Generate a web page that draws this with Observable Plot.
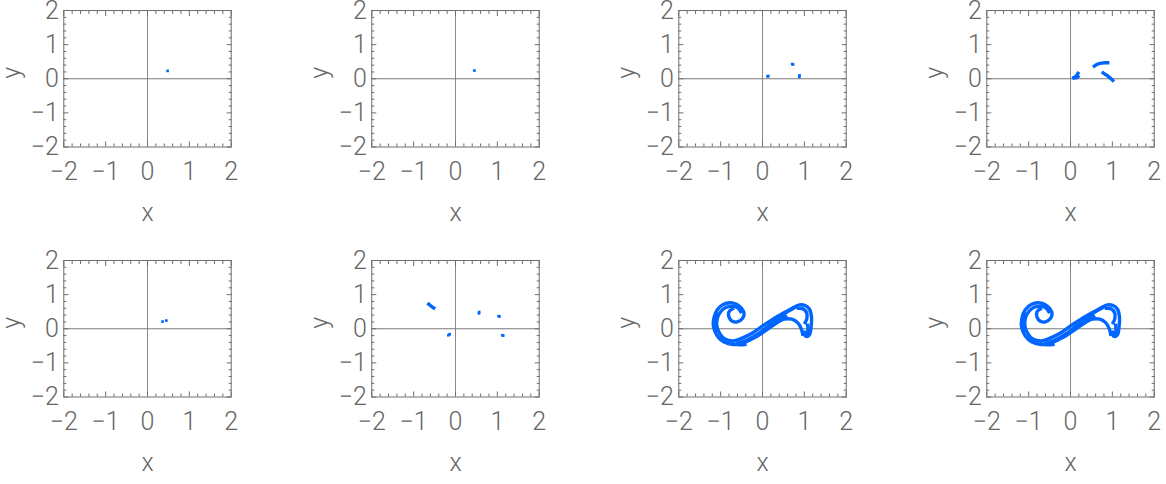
<!DOCTYPE html>
<html><head><meta charset="utf-8">
<script src="https://cdn.jsdelivr.net/npm/d3@7"></script>
<script src="https://cdn.jsdelivr.net/npm/@observablehq/plot@0.6"></script>
<style>
html,body{margin:0;padding:0;background:#fff;}
#wrap{position:relative;width:1166px;height:484px;overflow:hidden;}
#wrap > div{position:absolute;width:307px;height:250px;}
#wrap svg{max-width:none !important;}
</style></head><body><div id="wrap"></div>
<script>
// ---- tick values ----
const majorTicks = [-2, -1, 0, 1, 2];
const minorTicks = [-1.8, -1.6, -1.4, -1.2, -0.8, -0.6, -0.4, -0.2, 0.2, 0.4, 0.6, 0.8, 1.2, 1.4, 1.6, 1.8];
const axisLabels = ["x", "y"];

// ---- point data per panel ([x, y]) ----
const panel1Points = [[0.48, 0.23]];
const panel2Points = [[0.45, 0.24]];
const panel3Points = [[0.12, 0.07], [0.14, 0.08], [0.71, 0.43], [0.73, 0.42], [0.88, 0.05], [0.885, 0.10]];
const panel4Strands = [
  [[0.08, 0.03], [0.12, 0.06], [0.16, 0.12], [0.18, 0.16]],
  [[0.09, 0.03], [0.15, 0.03], [0.18, 0.06]],
  [[0.57, 0.37], [0.62, 0.41], [0.68, 0.44], [0.75, 0.46], [0.82, 0.47], [0.89, 0.47]],
  [[0.78, 0.17], [0.83, 0.13], [0.88, 0.09], [0.93, 0.04], [0.97, 0.00], [1.01, -0.05]]
];
const panel5Points = [[0.36, 0.21], [0.45, 0.24]];
const panel6Points = [[-0.17, -0.19], [-0.14, -0.16], [0.56, 0.45], [0.565, 0.49], [1.03, 0.37], [1.05, 0.36], [1.12, -0.19], [1.14, -0.20]];
const panel6Strands = [
  [[-0.64, 0.72], [-0.60, 0.68], [-0.56, 0.64], [-0.52, 0.61]]
];
// attractor (panels 7 and 8), traced strands
const attractorStrands = [
  [[1.00, -0.10], [1.04, -0.22], [1.12, -0.18], [1.16, 0.05], [1.17, 0.35], [1.12, 0.58], [1.02, 0.68], [0.88, 0.70], [0.72, 0.61], [0.50, 0.46], [0.25, 0.28], [0.00, 0.08], [-0.25, -0.13], [-0.50, -0.28], [-0.70, -0.36], [-0.90, -0.30], [-1.02, -0.14], [-1.09, 0.08], [-1.08, 0.30], [-1.00, 0.50], [-0.88, 0.62], [-0.74, 0.66], [-0.60, 0.62], [-0.52, 0.50]],
  [[0.96, -0.16], [0.92, 0.02], [0.84, 0.18], [0.70, 0.28], [0.52, 0.28], [0.25, 0.12], [0.00, -0.08], [-0.25, -0.28], [-0.50, -0.43], [-0.70, -0.46], [-0.92, -0.39], [-1.08, -0.21], [-1.17, 0.05], [-1.16, 0.32], [-1.08, 0.56], [-0.94, 0.71], [-0.78, 0.76], [-0.62, 0.72], [-0.50, 0.60], [-0.44, 0.44], [-0.48, 0.30], [-0.60, 0.20], [-0.72, 0.22], [-0.80, 0.34], [-0.80, 0.50], [-0.72, 0.58]],
  [[0.80, 0.64], [0.60, 0.50], [0.38, 0.30], [0.12, 0.06], [-0.12, -0.16], [-0.38, -0.34], [-0.58, -0.42]],
  [[0.55, 0.36], [0.40, 0.22], [0.15, 0.01], [-0.12, -0.21], [-0.40, -0.38]],
  [[0.86, 0.60], [0.98, 0.58], [1.06, 0.45], [1.06, 0.30], [1.02, 0.18]],
  [[1.08, 0.10], [1.08, -0.10], [1.02, -0.20]],
  [[-0.70, -0.45], [-0.55, -0.47], [-0.42, -0.46]],
  [[-1.12, -0.05], [-1.12, 0.20], [-1.06, 0.42]]
];

const panels = [
  {points: panel1Points, strands: []},
  {points: panel2Points, strands: []},
  {points: panel3Points, strands: []},
  {points: [], strands: panel4Strands},
  {points: panel5Points, strands: []},
  {points: panel6Points, strands: panel6Strands},
  {points: [], strands: attractorStrands},
  {points: [], strands: attractorStrands}
];

const BLUE = "#0066ff";
const GRAY = "#6e6e6e";
const FONT = "Roboto, 'Liberation Sans', sans-serif";
const fmt = d => d < 0 ? "\u2212" + (-d) : String(d);

const W = 307, H = 250, ML = 63.3, FW = 167.4, MT = 10, FH = 136.5;
const colStep = 307.6, rowStep = 250;
const wrap = document.getElementById("wrap");

panels.forEach((p, i) => {
  const col = i % 4, row = Math.floor(i / 4);
  const rows = p.strands.flatMap((s, k) => s.map(([x, y]) => ({s: k, x, y})));
  const chart = Plot.plot({
    width: W, height: H,
    marginLeft: ML, marginRight: W - ML - FW, marginTop: MT, marginBottom: H - MT - FH,
    x: {domain: [-2, 2]}, y: {domain: [-2, 2]},
    style: {fontFamily: FONT, fontSize: "25px", fontWeight: 300, color: "#666", background: "transparent", overflow: "visible", maxWidth: "none"},
    marks: [
      Plot.ruleX([0], {stroke: "#8a8a8a", strokeWidth: 1}),
      Plot.ruleY([0], {stroke: "#7a7a7a", strokeWidth: 1}),
      Plot.line(rows, {x: "x", y: "y", z: "s", stroke: BLUE, strokeWidth: 3.4, curve: "catmull-rom", strokeLinecap: "square", strokeLinejoin: "round"}),
      Plot.dot(p.points, {x: d => d[0], y: d => d[1], symbol: "square", r: 1.5, fill: BLUE, stroke: null}),
      Plot.frame({stroke: GRAY, strokeWidth: 1}),
      Plot.axisX({anchor: "bottom", ticks: majorTicks, tickSize: 0, tickPadding: 15, tickFormat: fmt, label: null, fill: "#666"}),
      Plot.axisY({anchor: "left", ticks: majorTicks, tickSize: 0, tickPadding: 5, tickFormat: fmt, label: null, fill: "#666"}),
      Plot.axisX({anchor: "bottom", ticks: majorTicks, tickSize: -5, text: null, label: null, stroke: GRAY}),
      Plot.axisX({anchor: "bottom", ticks: minorTicks, tickSize: -3, text: null, label: null, stroke: GRAY}),
      Plot.axisX({anchor: "top", ticks: majorTicks, tickSize: -5, text: null, label: null, stroke: GRAY}),
      Plot.axisX({anchor: "top", ticks: minorTicks, tickSize: -3, text: null, label: null, stroke: GRAY}),
      Plot.axisY({anchor: "left", ticks: majorTicks, tickSize: -5, text: null, label: null, stroke: GRAY}),
      Plot.axisY({anchor: "left", ticks: minorTicks, tickSize: -3, text: null, label: null, stroke: GRAY}),
      Plot.axisY({anchor: "right", ticks: majorTicks, tickSize: -5, text: null, label: null, stroke: GRAY}),
      Plot.axisY({anchor: "right", ticks: minorTicks, tickSize: -3, text: null, label: null, stroke: GRAY}),
      Plot.text([axisLabels[0]], {text: d => d, frameAnchor: "bottom", dy: 74, fill: "#666", fontSize: 25}),
      Plot.text([axisLabels[1]], {text: d => d, frameAnchor: "left", dx: -52, rotate: -90, fill: "#666", fontSize: 25})
    ]
  });
  const holder = document.createElement("div");
  holder.style.left = (col * colStep) + "px";
  holder.style.top = (row * rowStep) + "px";
  holder.appendChild(chart);
  wrap.appendChild(holder);
});
</script></body></html>
